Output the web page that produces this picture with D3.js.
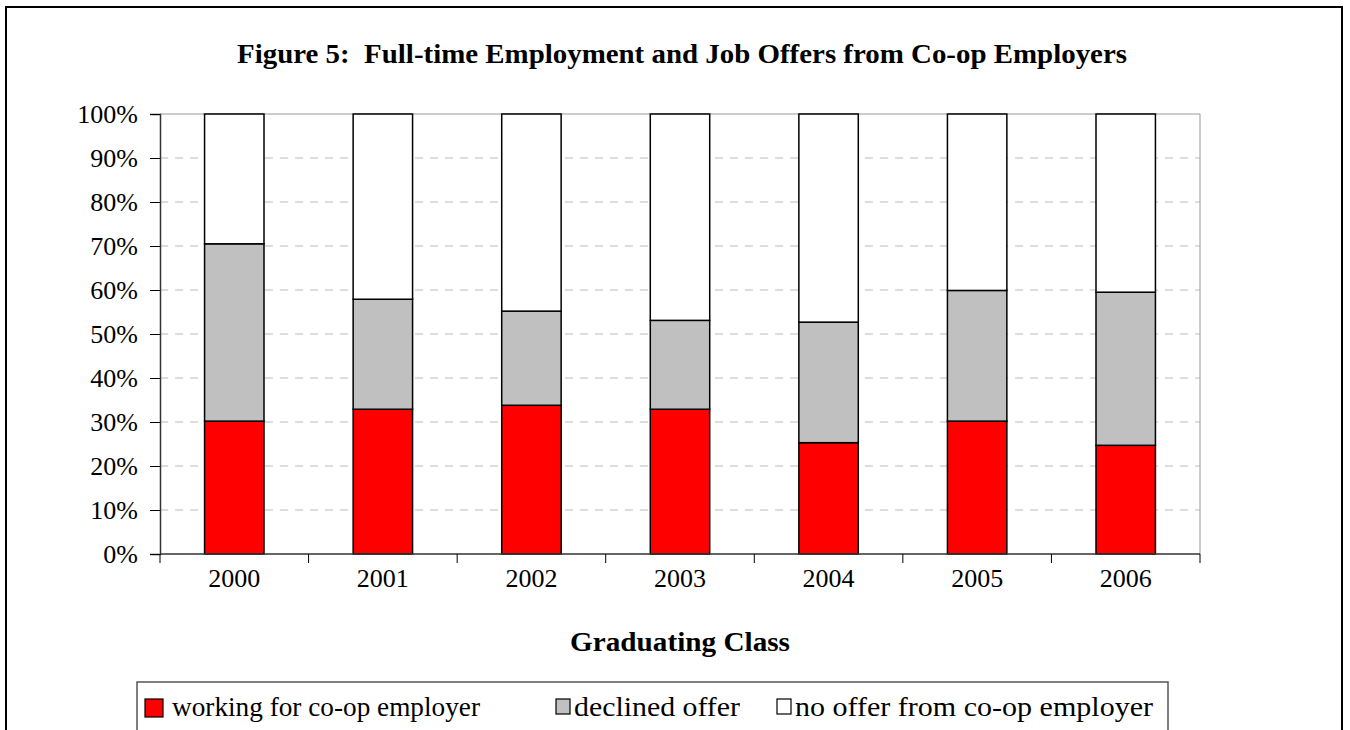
<!DOCTYPE html>
<html>
<head>
<meta charset="utf-8">
<script src="https://cdn.jsdelivr.net/npm/d3@7"></script>
<style>
  body { margin: 0; background: #fff; }
  svg { display: block; font-family: 'Liberation Serif', 'Times New Roman', serif; }
</style>
</head>
<body>
<svg width="1350" height="730"></svg>
<script>
const svg = d3.select('svg');

const width = +svg.attr('width');
const height = +svg.attr('height');
const margin = { top: 114, right: 150, bottom: 176, left: 160 };
const innerWidth = width - margin.left - margin.right;
const innerHeight = height - margin.top - margin.bottom;

const titleText = 'Figure 5:  Full-time Employment and Job Offers from Co-op Employers';
const xAxisLabel = 'Graduating Class';

// data (percent of class)
const years = ['2000', '2001', '2002', '2003', '2004', '2005', '2006'];
const working = [30.2, 32.9, 33.8, 32.9, 25.3, 30.2, 24.7];
const declined = [40.3, 25.0, 21.4, 20.2, 27.4, 29.7, 34.8];
const noOffer = [29.5, 42.1, 44.8, 46.9, 47.3, 40.1, 40.5];
const yTicks = [0, 10, 20, 30, 40, 50, 60, 70, 80, 90, 100];

const seriesNames = ['working for co-op employer', 'declined offer', 'no offer from co-op employer'];
const seriesColors = ['#ff0000', '#c0c0c0', '#ffffff'];

// outer frame
svg.append('path')
  .attr('d', 'M6,735V7H1342V735')
  .attr('fill', 'none')
  .attr('stroke', '#000')
  .attr('stroke-width', 2);

// title
svg.append('text')
  .attr('x', 682).attr('y', 63)
  .attr('text-anchor', 'middle')
  .attr('font-weight', 'bold')
  .attr('font-size', 27)
  .attr('textLength', 890)
  .attr('lengthAdjust', 'spacingAndGlyphs')
  .style('white-space', 'pre')
  .text(titleText);

const g = svg.append('g')
  .attr('transform', `translate(${margin.left},${margin.top})`);

const x = d3.scaleBand()
  .domain(years)
  .range([0, innerWidth])
  .paddingInner(0.6)
  .paddingOuter(0.3);

const y = d3.scaleLinear()
  .domain([0, 100])
  .range([innerHeight, 0]);

// gridlines
g.append('g')
  .selectAll('line')
  .data(yTicks.filter(d => d > 0 && d < 100))
  .enter().append('line')
  .attr('x1', 0).attr('x2', innerWidth)
  .attr('y1', d => y(d)).attr('y2', d => y(d))
  .attr('stroke', '#bbb')
  .attr('stroke-dasharray', '8,7');

// plot area frame (top/right)
g.append('path')
  .attr('d', `M0,0H${innerWidth}V${innerHeight}`)
  .attr('fill', 'none')
  .attr('stroke', '#999');

// stacked bars
const table = years.map((yr, i) => ({ year: yr, a: working[i], b: declined[i], c: noOffer[i] }));
const stack = d3.stack().keys(['a', 'b', 'c'])(table);

g.selectAll('.layer')
  .data(stack)
  .enter().append('g')
  .attr('class', 'layer')
  .attr('fill', (d, i) => seriesColors[i])
  .selectAll('rect')
  .data(d => d)
  .enter().append('rect')
  .attr('x', d => x(d.data.year))
  .attr('width', x.bandwidth())
  .attr('y', d => y(Math.min(d[1], 100)))
  .attr('height', d => y(d[0]) - y(Math.min(d[1], 100)))
  .attr('stroke', '#000')
  .attr('stroke-width', 1.5);

// y axis
const yAxis = d3.axisLeft(y)
  .tickValues(yTicks)
  .tickSize(10)
  .tickPadding(12)
  .tickFormat(d => d + '%');

const yG = g.append('g').call(yAxis);
yG.select('.domain').attr('stroke', '#333').attr('stroke-width', 1.5);
yG.selectAll('.tick line').attr('stroke', '#000');
yG.selectAll('text')
  .attr('font-family', "'Liberation Serif', 'Times New Roman', serif")
  .attr('font-size', 26)
  .attr('fill', '#000');

// x axis with ticks between categories
const xG = g.append('g')
  .attr('transform', `translate(0,${innerHeight})`);
xG.append('line')
  .attr('x1', 0).attr('x2', innerWidth)
  .attr('stroke', '#333').attr('stroke-width', 1.5);
xG.selectAll('.sep')
  .data(d3.range(years.length + 1))
  .enter().append('line')
  .attr('class', 'sep')
  .attr('x1', d => d * innerWidth / years.length)
  .attr('x2', d => d * innerWidth / years.length)
  .attr('y1', 0).attr('y2', 9)
  .attr('stroke', '#000');
xG.selectAll('.lbl')
  .data(years)
  .enter().append('text')
  .attr('class', 'lbl')
  .attr('x', d => x(d) + x.bandwidth() / 2)
  .attr('y', 33)
  .attr('text-anchor', 'middle')
  .attr('font-size', 26)
  .text(d => d);

// x axis label
svg.append('text')
  .attr('x', 680).attr('y', 651)
  .attr('text-anchor', 'middle')
  .attr('font-weight', 'bold')
  .attr('font-size', 27)
  .attr('textLength', 220)
  .attr('lengthAdjust', 'spacingAndGlyphs')
  .text(xAxisLabel);

// legend
const legend = svg.append('g');
legend.append('rect')
  .attr('x', 137).attr('y', 682)
  .attr('width', 1031).attr('height', 80)
  .attr('fill', '#fff')
  .attr('stroke', '#555')
  .attr('stroke-width', 1.5);

const legendX = [145, 556, 777];
const legendW = [308, 166, 358];
seriesNames.forEach((name, i) => {
  legend.append('rect')
    .attr('x', legendX[i]).attr('y', 699)
    .attr('width', i === 0 ? 18 : 14).attr('height', i === 0 ? 18 : 15)
    .attr('fill', seriesColors[i])
    .attr('stroke', '#000')
    .attr('stroke-width', 1.2);
  legend.append('text')
    .attr('x', legendX[i] + (i === 0 ? 27 : 18)).attr('y', 716)
    .attr('font-size', 27)
    .attr('textLength', legendW[i])
    .attr('lengthAdjust', 'spacingAndGlyphs')
    .text(name);
});
</script>
</body>
</html>
